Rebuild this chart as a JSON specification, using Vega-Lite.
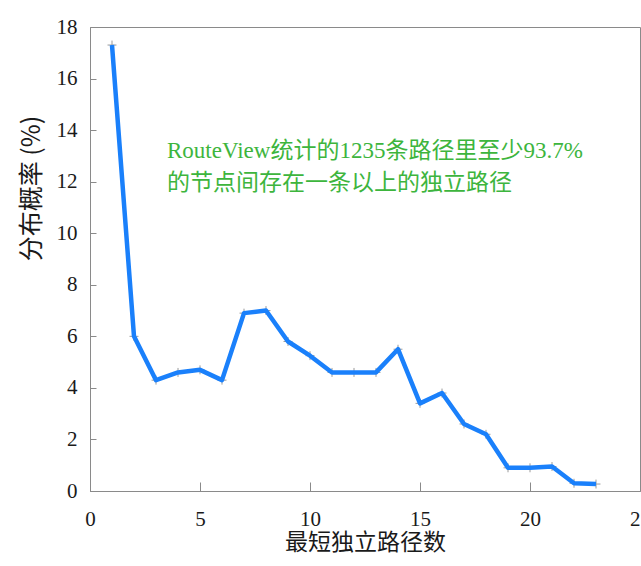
{
  "$schema": "https://vega.github.io/schema/vega-lite/v6.json",
  "autosize": "none",
  "width": 550,
  "height": 464,
  "padding": {"left": 90, "top": 27, "right": 1, "bottom": 75},
  "background": "white",
  "config": {
    "view": {"stroke": "#8a8a8a", "strokeWidth": 1},
    "font": "Liberation Serif"
  },
  "datasets": {
    "dist": [
      {"k": 1, "p": 17.3},
      {"k": 2, "p": 6.0},
      {"k": 3, "p": 4.3},
      {"k": 4, "p": 4.6},
      {"k": 5, "p": 4.7},
      {"k": 6, "p": 4.3},
      {"k": 7, "p": 6.9},
      {"k": 8, "p": 7.0},
      {"k": 9, "p": 5.8},
      {"k": 10, "p": 5.25},
      {"k": 11, "p": 4.6},
      {"k": 12, "p": 4.6},
      {"k": 13, "p": 4.6},
      {"k": 14, "p": 5.5},
      {"k": 15, "p": 3.4},
      {"k": 16, "p": 3.8},
      {"k": 17, "p": 2.6},
      {"k": 18, "p": 2.2},
      {"k": 19, "p": 0.9},
      {"k": 20, "p": 0.9},
      {"k": 21, "p": 0.95},
      {"k": 22, "p": 0.3},
      {"k": 23, "p": 0.27}
    ],
    "note": [
      {"x": 3.5, "y": 13.2, "t": "RouteView统计的1235条路径里至少93.7%"},
      {"x": 3.5, "y": 11.95, "t": "的节点间存在一条以上的独立路径"}
    ]
  },
  "layer": [
    {
      "data": {"name": "dist"},
      "mark": {
        "type": "point",
        "shape": "M-1,0L1,0M0,-1L0,1",
        "size": 80,
        "stroke": "#9a9a9a",
        "strokeWidth": 1,
        "filled": false,
        "opacity": 1
      },
      "encoding": {
        "x": {
          "field": "k",
          "type": "quantitative",
          "scale": {"domain": [0, 25], "nice": false},
          "axis": {
            "values": [0, 5, 10, 15, 20, 25],
            "grid": false,
            "domainColor": "#8a8a8a",
            "tickColor": "#8a8a8a",
            "tickSize": -9,
            "labelPadding": 26,
            "labelFont": "Liberation Serif",
            "labelFontSize": 21,
            "labelColor": "#1a1a1a",
            "labelFlush": false,
            "title": "最短独立路径数",
            "titleFont": "Noto Sans CJK SC",
            "titleFontWeight": "normal",
            "titleFontSize": 23,
            "titleColor": "#1a1a1a",
            "titlePadding": 2
          }
        },
        "y": {
          "field": "p",
          "type": "quantitative",
          "scale": {"domain": [0, 18], "nice": false},
          "axis": {
            "values": [0, 2, 4, 6, 8, 10, 12, 14, 16, 18],
            "grid": false,
            "domainColor": "#8a8a8a",
            "tickColor": "#8a8a8a",
            "tickSize": -6,
            "labelPadding": 19,
            "labelFont": "Liberation Serif",
            "labelFontSize": 21,
            "labelColor": "#1a1a1a",
            "labelFlush": false,
            "title": "分布概率  (%)",
            "titleFont": "Noto Sans CJK SC",
            "titleFontWeight": "normal",
            "titleFontSize": 25,
            "titleColor": "#1a1a1a",
            "titleX": -46,
            "titleY": 161
          }
        }
      }
    },
    {
      "data": {"name": "dist"},
      "mark": {
        "type": "line",
        "color": "#1a80fb",
        "strokeWidth": 4.5,
        "strokeJoin": "round",
        "strokeCap": "butt"
      },
      "encoding": {
        "x": {"field": "k", "type": "quantitative"},
        "y": {"field": "p", "type": "quantitative"}
      }
    },
    {
      "data": {"name": "note"},
      "mark": {
        "type": "text",
        "align": "left",
        "baseline": "middle",
        "font": "Liberation Serif, Noto Sans CJK SC",
        "fontSize": 23,
        "color": "#3db53d"
      },
      "encoding": {
        "x": {"field": "x", "type": "quantitative"},
        "y": {"field": "y", "type": "quantitative"},
        "text": {"field": "t"}
      }
    }
  ]
}
